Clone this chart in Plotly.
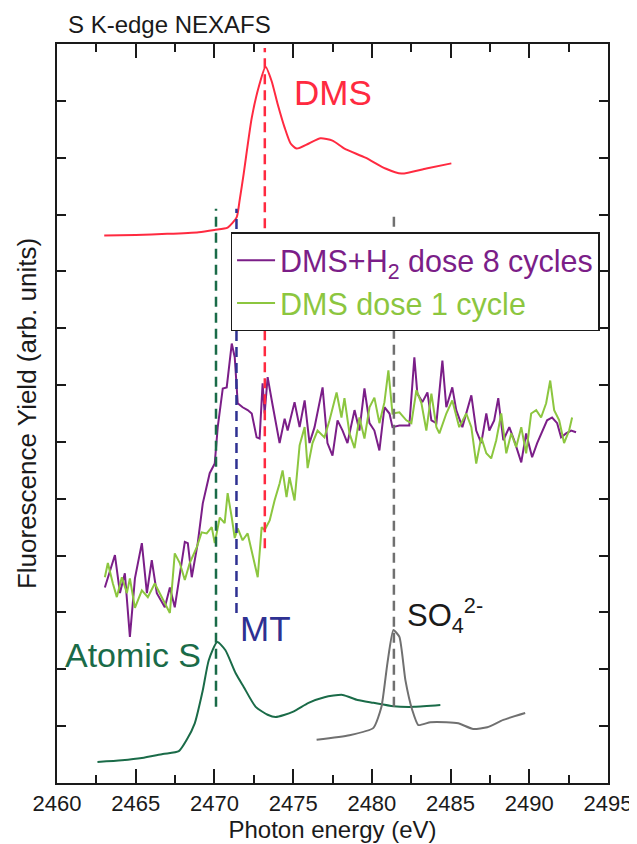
import plotly.graph_objects as go

# ---------------- data ----------------
dms_e = [2463.0, 2465.0, 2467.0, 2469.0, 2470.0, 2470.84, 2471.41, 2471.60, 2471.86, 2472.37,
         2472.87, 2473.25, 2473.63, 2474.01, 2474.46, 2474.84, 2475.22, 2476.0, 2476.74, 2477.5,
         2478.26, 2479.59, 2480.86, 2481.88, 2483.46, 2485.05]
dms_y = [9.63, 9.64, 9.66, 9.69, 9.73, 9.77, 9.95, 10.25, 10.72, 11.7,
         12.3, 12.6, 12.35, 11.95, 11.53, 11.25, 11.16, 11.25, 11.34, 11.3,
         11.16, 11.0, 10.81, 10.72, 10.81, 10.9]

h2_e = [2463.04, 2463.68, 2464.00, 2464.31, 2464.63, 2464.95, 2465.39, 2465.71, 2466.02, 2466.34,
        2466.85, 2467.17, 2467.48, 2467.80, 2468.12, 2468.31, 2468.56, 2468.94, 2469.26, 2469.70,
        2470.02, 2470.21, 2470.46, 2470.53, 2470.78, 2471.10, 2471.29, 2471.48, 2471.79, 2472.11,
        2472.37, 2472.68, 2472.87, 2473.06, 2473.19, 2473.38, 2473.70, 2474.14, 2474.46, 2474.65,
        2475.09, 2475.41, 2475.73, 2476.04, 2476.36, 2476.87, 2477.18, 2477.50, 2477.82, 2478.14,
        2478.45, 2478.90, 2479.21, 2479.53, 2479.85, 2480.16, 2480.48, 2480.80, 2481.12, 2481.31,
        2481.75, 2482.38, 2482.70, 2482.89, 2483.21, 2483.53, 2483.78, 2484.10, 2484.48, 2484.73,
        2485.11, 2485.36, 2485.75, 2486.32, 2486.63, 2486.95, 2487.27, 2487.46, 2487.77, 2488.03,
        2488.35, 2488.73, 2489.04, 2489.49, 2489.80, 2490.18, 2490.50, 2490.82, 2491.13, 2491.45,
        2491.77, 2492.02, 2492.34, 2492.66, 2492.97]
h2_y = [3.44, 4.01, 3.34, 3.69, 2.57, 3.60, 4.22, 3.34, 3.92, 3.34,
        3.09, 3.44, 3.09, 3.69, 4.24, 4.22, 3.62, 4.22, 4.92, 5.45,
        5.62, 6.26, 6.78, 6.94, 6.96, 7.73, 7.49, 6.68, 6.61, 6.56,
        6.50, 6.08, 6.06, 7.03, 6.50, 7.14, 6.64, 5.98, 6.41, 6.20,
        6.70, 6.26, 6.73, 5.98, 6.26, 6.96, 5.98, 5.76, 6.38, 6.20,
        5.98, 6.56, 6.20, 6.94, 6.33, 6.20, 5.85, 6.61, 6.50, 6.26,
        6.29, 6.29, 7.49, 6.85, 6.70, 6.87, 6.38, 6.33, 7.43, 6.61,
        6.96, 6.56, 6.26, 6.82, 6.20, 5.98, 6.50, 6.20, 6.38, 6.77,
        6.03, 6.26, 6.03, 5.64, 6.15, 5.73, 5.98, 6.20, 6.38, 6.43,
        6.33, 6.08, 6.15, 6.20, 6.17]

one_e = [2463.04, 2463.23, 2463.55, 2463.80, 2464.12, 2464.44, 2464.63, 2464.95, 2465.39, 2465.77,
         2466.21, 2466.66, 2467.17, 2467.48, 2467.80, 2468.12, 2468.43, 2468.88, 2469.19, 2469.51,
         2469.83, 2470.02, 2470.34, 2470.65, 2470.84, 2471.10, 2471.29, 2471.48, 2471.79, 2472.11,
         2472.37, 2472.56, 2472.75, 2473.00, 2473.19, 2473.51, 2473.82, 2474.14, 2474.33, 2474.58,
         2474.77, 2475.09, 2475.41, 2475.73, 2475.92, 2476.23, 2476.55, 2476.99, 2477.31, 2477.76,
         2478.07, 2478.26, 2478.58, 2478.90, 2479.21, 2479.53, 2479.85, 2480.16, 2480.48, 2480.80,
         2481.05, 2481.31, 2481.75, 2482.19, 2482.51, 2482.83, 2483.15, 2483.46, 2483.78, 2484.10,
         2484.29, 2484.73, 2485.11, 2485.55, 2486.00, 2486.32, 2486.63, 2486.95, 2487.27, 2487.58,
         2487.90, 2488.22, 2488.54, 2488.85, 2489.17, 2489.49, 2489.80, 2490.12, 2490.44, 2490.75,
         2491.07, 2491.33, 2491.58, 2491.90, 2492.21, 2492.53, 2492.72]
one_y = [3.62, 3.87, 3.51, 3.27, 3.62, 3.34, 3.60, 3.08, 3.39, 3.27,
         3.51, 3.27, 2.99, 4.04, 3.87, 3.57, 3.87, 4.15, 4.41, 4.39,
         4.50, 4.22, 4.67, 4.57, 5.10, 4.67, 4.31, 4.48, 4.27, 4.39,
         4.09, 3.87, 3.62, 4.50, 4.45, 4.62, 4.97, 5.27, 5.50, 5.03,
         5.38, 4.97, 5.94, 6.26, 5.54, 5.98, 6.20, 6.08, 6.38, 6.87,
         6.43, 6.77, 6.15, 5.89, 6.43, 6.06, 6.61, 6.78, 6.33, 6.70,
         7.26, 6.50, 6.52, 6.38, 6.33, 6.91, 6.68, 6.20, 6.85, 6.26,
         6.15, 6.50, 6.73, 6.26, 6.50, 6.26, 5.62, 6.08, 5.80, 5.71,
         6.03, 6.50, 5.80, 6.15, 5.91, 6.26, 5.80, 6.50, 6.56, 6.43,
         6.68, 7.08, 6.56, 6.38, 5.98, 6.20, 6.43]

atom_e = [2462.57, 2464.12, 2465.39, 2466.72, 2467.74, 2468.24, 2468.75, 2469.26, 2469.64, 2470.18,
          2470.69, 2471.35, 2471.86, 2472.62, 2473.38, 2473.89, 2474.97, 2475.98, 2476.99, 2478.14,
          2479.09, 2480.10, 2481.37, 2482.70, 2484.35]
atom_y = [0.37, 0.40, 0.44, 0.51, 0.56, 0.76, 1.05, 1.63, 2.16, 2.48,
          2.34, 1.93, 1.69, 1.34, 1.20, 1.16, 1.25, 1.41, 1.51, 1.55,
          1.46, 1.41, 1.35, 1.34, 1.37]

so4_e = [2476.49, 2478.58, 2480.10, 2480.61, 2480.99, 2481.37, 2481.75, 2482.13, 2482.57, 2482.95,
         2483.72, 2484.73, 2485.49, 2486.44, 2487.33, 2488.35, 2489.74]
so4_y = [0.76, 0.84, 0.97, 1.34, 2.11, 2.69, 2.57, 1.81, 1.28, 1.02,
         1.07, 1.07, 1.05, 0.95, 0.98, 1.11, 1.23]

# reference energies (dashed markers): energy, low y, high y
ref_names = ["Atomic S", "MT", "DMS", "SO4"]
ref_e = [2470.1, 2471.4, 2473.2, 2481.4]
ref_lo = [1.34, 2.99, 4.13, 1.34]
ref_hi = [10.1, 10.1, 12.93, 10.03]

x_ticks = [2460, 2465, 2470, 2475, 2480, 2485, 2490, 2495]

# ---------------- styles ----------------
RED = "#FF2A40"
PURPLE = "#7B1E88"
LGREEN = "#8CC63F"
DGREEN = "#1A6B48"
NAVY = "#2E3192"
GRAY = "#707070"
INK = "#1a1a1a"
ref_colors = [DGREEN, NAVY, RED, GRAY]
FONT = "Arial, Liberation Sans, sans-serif"

fig = go.Figure()

fig.add_trace(go.Scatter(x=dms_e, y=dms_y, mode="lines", showlegend=False,
                         line=dict(color=RED, width=2, shape="spline", smoothing=0.6)))
fig.add_trace(go.Scatter(x=atom_e, y=atom_y, mode="lines", showlegend=False,
                         line=dict(color=DGREEN, width=2, shape="spline", smoothing=0.6)))
fig.add_trace(go.Scatter(x=so4_e, y=so4_y, mode="lines", showlegend=False,
                         line=dict(color=GRAY, width=2, shape="spline", smoothing=0.5)))
fig.add_trace(go.Scatter(x=h2_e, y=h2_y, mode="lines", legendrank=1,
                         name="<span style='color:%s'>DMS+H<sub>2</sub> dose 8 cycles</span>" % PURPLE,
                         line=dict(color=PURPLE, width=2)))
fig.add_trace(go.Scatter(x=one_e, y=one_y, mode="lines", legendrank=2,
                         name="<span style='color:%s'>DMS dose 1 cycle</span>" % LGREEN,
                         line=dict(color=LGREEN, width=2)))

for e, lo, hi, c in zip(ref_e, ref_lo, ref_hi, ref_colors):
    fig.add_trace(go.Scatter(x=[e, e], y=[lo, hi], mode="lines", showlegend=False,
                             line=dict(color=c, width=2.5, dash="10px,6px")))

# labels
fig.add_annotation(x=2474.9, y=12.15, text="DMS", showarrow=False, xanchor="left", yanchor="middle",
                   font=dict(family=FONT, size=35, color=RED))
fig.add_annotation(x=2471.48, y=2.72, text="MT", showarrow=False, xanchor="left", yanchor="middle",
                   font=dict(family=FONT, size=35, color=NAVY))
fig.add_annotation(x=2469.3, y=2.25, text="Atomic S", showarrow=False, xanchor="right", yanchor="middle",
                   font=dict(family=FONT, size=34, color=DGREEN))
fig.add_annotation(x=2482.1, y=2.95, text="SO<sub>4</sub><sup>2-</sup>", showarrow=False,
                   xanchor="left", yanchor="middle",
                   font=dict(family=FONT, size=31, color=INK))
fig.add_annotation(xref="paper", yref="paper", x=0.016, y=1.027, text="S K-edge NEXAFS",
                   showarrow=False, xanchor="left", yanchor="middle",
                   font=dict(family=FONT, size=24, color=INK))

# the page body adds an 8 px offset, so the figure is 8 px smaller and shifted
fig.update_layout(
    width=629, height=836,
    margin=dict(l=49, r=29, t=36, b=61),
    paper_bgcolor="white", plot_bgcolor="white",
    font=dict(family=FONT, color=INK),
    legend=dict(x=0.315, y=0.745, xanchor="left", yanchor="top",
                bgcolor="white", bordercolor=INK, borderwidth=1.5,
                font=dict(family=FONT, size=30.5), itemwidth=38, traceorder="normal"),
    xaxis=dict(range=[2460, 2495], tickvals=x_ticks, ticks="inside", ticklen=14, tickwidth=1.5,
               tickcolor=INK, showline=True, linecolor=INK, linewidth=2, mirror="ticks",
               showgrid=False, zeroline=False, tickfont=dict(size=22), automargin=False,
               minor=dict(ticks="inside", ticklen=8, tickwidth=1.5, tick0=2460, dtick=2.5,
                          tickcolor=INK, showgrid=False),
               title=dict(text="Photon energy (eV)", font=dict(size=24), standoff=0)),
    yaxis=dict(range=[0, 13], tick0=0, dtick=1, ticks="inside", ticklen=9, tickwidth=1.5,
               tickcolor=INK, showline=True, linecolor=INK, linewidth=2, mirror="ticks",
               showgrid=False, zeroline=False, showticklabels=False, automargin=False,
               title=dict(text="Fluorescence Yield (arb. units)", font=dict(size=26), standoff=11)),
)

fig.write_html("out.html")
